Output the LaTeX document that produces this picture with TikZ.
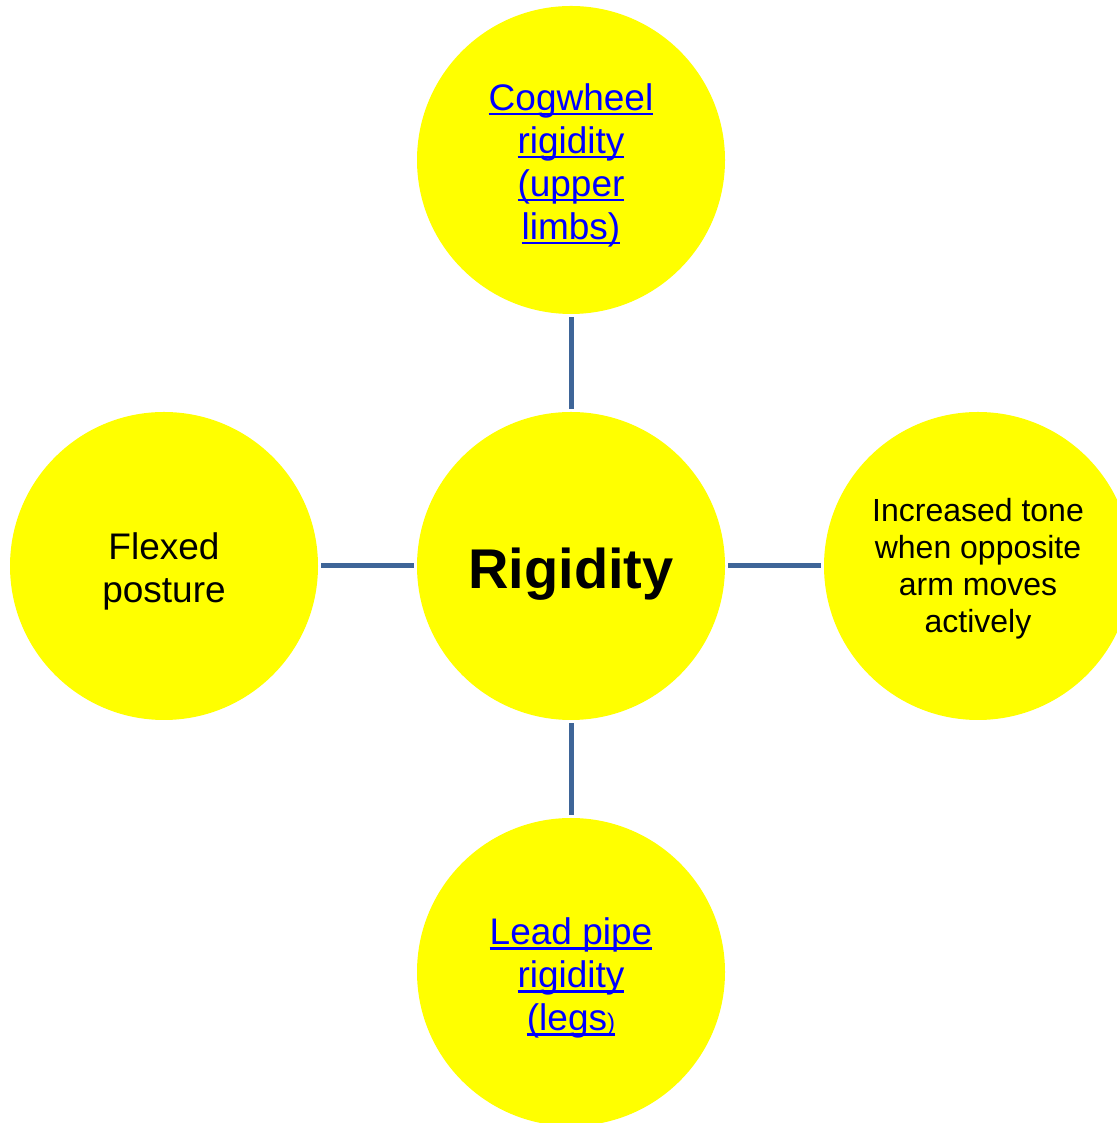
\documentclass[tikz,border=0pt]{standalone}
\usepackage{fontspec}
\setmainfont{Liberation Sans}
\definecolor{bubble}{RGB}{255,255,0}
\definecolor{linkblue}{RGB}{0,0,255}
\definecolor{spoke}{RGB}{62,101,152}
% thick underline in the text colour
\newcommand{\lnk}[1]{\setbox0\hbox{#1}\rlap{\rule[-5pt]{\wd0}{2.5pt}}\box0}
\begin{document}
\begin{tikzpicture}[x=1pt,y=1pt,
		bubble/.style={circle, fill=bubble, minimum size=308pt, inner sep=0pt},
		txt/.style={align=center, inner sep=0pt, yshift=-5pt},
		spoke/.style={draw=spoke, line width=5pt, shorten >=3pt, shorten <=3pt}]
	% frame
	\useasboundingbox (0,0) rectangle (1116,1123);
	% circles
	\node[bubble, label={[txt, yshift=-3pt, font=\fontsize{56}{64}\selectfont\bfseries]center:Rigidity}] (rig) at (571,557) {};
	\node[bubble, label={[txt, font=\fontsize{37}{43}\selectfont, text=linkblue]center:{\lnk{Cogwheel}\\\lnk{rigidity}\\\lnk{(upper}\\\lnk{limbs)}}}] (cog) at (571,963) {};
	\node[bubble, label={[txt, yshift=-1pt, font=\fontsize{37}{43}\selectfont, text=linkblue]center:{\lnk{Lead pipe}\\\lnk{rigidity}\\\lnk{(legs{\fontsize{24}{24}\selectfont)}}}}] (lead) at (571,151) {};
	\node[bubble, label={[txt, font=\fontsize{37}{43}\selectfont]center:{Flexed\\posture}}] (flex) at (164,557) {};
	\node[bubble, label={[txt, yshift=2pt, font=\fontsize{32}{37}\selectfont]center:{Increased tone\\when opposite\\arm moves\\actively}}] (tone) at (978,557) {};
	% spokes
	\draw[spoke] (rig) -- (cog);
	\draw[spoke] (rig) -- (lead);
	\draw[spoke] (rig) -- (flex);
	\draw[spoke] (rig) -- (tone);
\end{tikzpicture}
\end{document}
